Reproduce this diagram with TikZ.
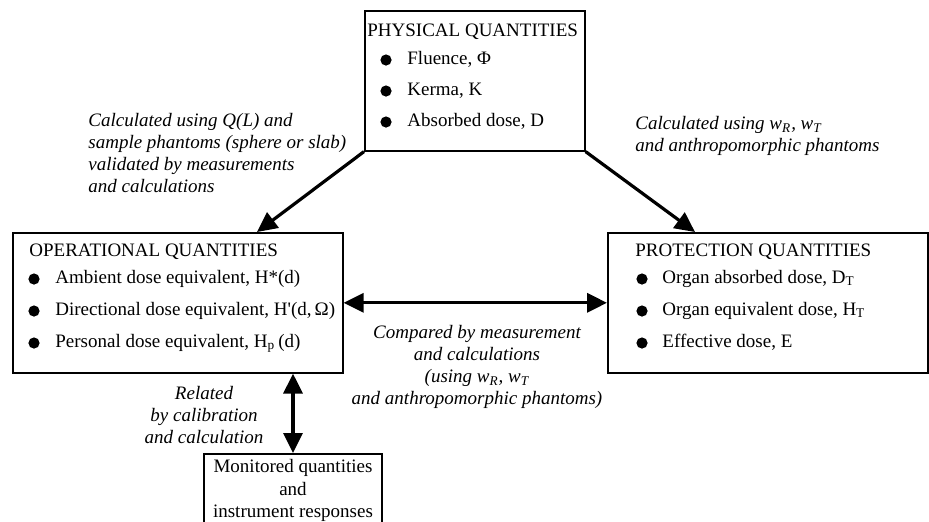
\documentclass[tikz,border=0pt]{standalone}
\usepackage{fontspec}
\setmainfont{Liberation Serif}
\usepackage{tikz}
\usetikzlibrary{arrows.meta, positioning, calc}

\begin{document}
\begin{tikzpicture}[
    x=0.5pt, y=-0.5pt,
    every node/.style={font=\fontsize{9.5}{11}\selectfont},
    box/.style={draw, line width=0.8pt, inner sep=0pt, anchor=north west},
    head/.style={anchor=base west, inner sep=0pt},
    entry/.style={anchor=base west, inner sep=0pt},
    dot/.style={circle, fill, inner sep=0pt, minimum size=5.6pt},
    note/.style={inner sep=0pt, font=\fontsize{9.5}{11}\selectfont\itshape},
    arrow/.style={-{Triangle[length=10pt, width=9.5pt]}, line width=1.6pt},
    twoway/.style={{Triangle[length=10pt, width=9.5pt]}-{Triangle[length=10pt, width=9.5pt]}, line width=1.6pt}
]
    \useasboundingbox (0,0) rectangle (929,521);

    % boxes
    \node[box, minimum width=110pt, minimum height=70pt] (phys) at (364,10) {};
    \node[box, minimum width=165pt, minimum height=70pt] (oper) at (12,232) {};
    \node[box, minimum width=160pt, minimum height=70pt] (prot) at (607,232) {};
    \node[box, anchor=north, minimum width=89pt, inner xsep=3pt, inner ysep=3pt, align=center] (mon) at (293,453) {Monitored quantities\\and\\instrument responses};

    % physical quantities
    \node[head] (physT) at (367,36) {PHYSICAL QUANTITIES};
    \foreach \y [count=\i] in {60,91,122}
        \node[dot] (physD\i) at (386,\y) {};
    \node[entry] (physI1) at (407,64) {Fluence, Φ};
    \node[entry] (physI2) at (407,95) {Kerma, K};
    \node[entry] (physI3) at (407,126) {Absorbed dose, D};

    % operational quantities
    \node[head] (operT) at (29,256) {OPERATIONAL QUANTITIES};
    \foreach \y [count=\i] in {279,311,343}
        \node[dot] (operD\i) at (34,\y) {};
    \node[entry] (operI1) at (55,283) {Ambient dose equivalent, H*(d)};
    \node[entry] (operI2) at (55,315) {Directional dose equivalent, H\textquotesingle(d,\,Ω)};
    \node[entry] (operI3) at (55,347) {Personal dose equivalent, H\textsubscript{p}\,(d)};

    % protection quantities
    \node[head] (protT) at (635,256) {PROTECTION QUANTITIES};
    \foreach \y [count=\i] in {279,311,343}
        \node[dot] (protD\i) at (642,\y) {};
    \node[entry] (protI1) at (662,283) {Organ absorbed dose, D\textsubscript{T}};
    \node[entry] (protI2) at (662,315) {Organ equivalent dose, H\textsubscript{T}};
    \node[entry] (protI3) at (662,347) {Effective dose, E};

    % connectors
    \coordinate (operIn) at (257,232);
    \coordinate (protIn) at (695,232);
    \draw[arrow] (phys.south west) -- (operIn);
    \draw[arrow] (phys.south east) -- (protIn);
    \draw[twoway] (oper.east) -- (prot.west);
    \draw[twoway] (mon.north) -- (mon.north |- oper.south);

    % labels
    \node[note, anchor=north west, align=left] (lblPhysOper) at (88,113) {Calculated using Q(L) and\\sample phantoms (sphere or slab)\\validated by measurements\\and calculations};
    \node[note, anchor=north west, align=left] (lblPhysProt) at (635,116) {Calculated using w\textsubscript{R}, w\textsubscript{T}\\and anthropomorphic phantoms};
    \node[note, anchor=north, align=center] (lblOperProt) at (477,325) {Compared by measurement\\and calculations\\(using w\textsubscript{R}, w\textsubscript{T}\\and anthropomorphic phantoms)};
    \node[note, anchor=north, align=center] (lblOperMon) at (204,386) {Related\\by calibration\\and calculation};
\end{tikzpicture}
\end{document}
